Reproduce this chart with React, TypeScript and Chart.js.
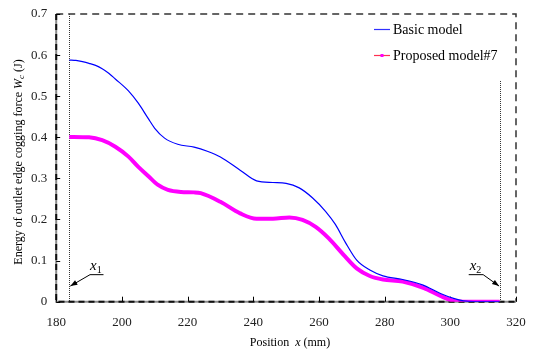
import React, { useEffect, useRef } from "react";
import { Chart, registerables } from "chart.js";

Chart.register(...registerables);

// ---- data ----
const basicX = [184, 186, 188, 190, 192, 194, 196, 198, 202, 205, 208, 210, 213, 217, 222, 226, 230, 236, 241, 246, 250, 254, 258, 262, 265, 268, 271.5, 275.5, 279.5, 285.5, 291.5, 297, 301, 304, 307, 315];
const basicModel = [0.588, 0.587, 0.584, 0.58, 0.575, 0.567, 0.556, 0.542, 0.513, 0.483, 0.446, 0.422, 0.398, 0.383, 0.376, 0.366, 0.352, 0.32, 0.294, 0.29, 0.288, 0.277, 0.253, 0.22, 0.188, 0.145, 0.101, 0.077, 0.063, 0.054, 0.041, 0.02, 0.008, 0.002, 0, 0];
const proposedX = [184, 190, 194, 198, 202, 205, 208, 211, 214, 218, 222, 224, 230, 236, 241, 246, 251, 255, 259, 263, 267.5, 271.5, 275.5, 279.5, 285.5, 292, 297, 301, 304, 315];
const proposedModel = [0.401, 0.4, 0.393, 0.377, 0.353, 0.328, 0.306, 0.284, 0.272, 0.267, 0.266, 0.264, 0.243, 0.215, 0.202, 0.202, 0.205, 0.199, 0.182, 0.154, 0.114, 0.081, 0.0625, 0.054, 0.049, 0.033, 0.014, 0.002, 0, 0];
const xTicks = [180, 200, 220, 240, 260, 280, 300, 320];
const yTicks = [0, 0.1, 0.2, 0.3, 0.4, 0.5, 0.6, 0.7];
const seriesNames = ["Basic model", "Proposed model#7"];
const x1Pos = 184;
const x2Pos = 315;

const SERIF = '"Liberation Serif", "Times New Roman", serif';

const deco = {
  id: "deco",
  beforeDatasetsDraw(chart: any) {
    const { ctx, chartArea: a, scales } = chart;
    const x = scales.x, y = scales.y;
    ctx.save();
    ctx.strokeStyle = "#333";
    ctx.lineWidth = 1.5;
    ctx.setLineDash([7, 5]);
    ctx.beginPath();
    ctx.moveTo(a.left, a.top);
    ctx.lineTo(a.right, a.top);
    ctx.lineTo(a.right, a.bottom);
    ctx.stroke();
    ctx.setLineDash([]);
    ctx.strokeStyle = "#8a8a8a";
    ctx.lineWidth = 2;
    ctx.beginPath();
    ctx.moveTo(a.left, a.top);
    ctx.lineTo(a.left, a.bottom);
    ctx.lineTo(a.right, a.bottom);
    ctx.stroke();
    ctx.setLineDash([6, 4]);
    ctx.strokeStyle = "#111";
    ctx.stroke();
    ctx.setLineDash([]);
    ctx.lineWidth = 1;
    ctx.strokeStyle = "#000";
    ctx.beginPath();
    xTicks.forEach((v) => {
      const px = Math.round(x.getPixelForValue(v)) + 0.5;
      ctx.moveTo(px, a.bottom);
      ctx.lineTo(px, a.bottom - 5);
    });
    yTicks.forEach((v) => {
      const py = Math.round(y.getPixelForValue(v)) + 0.5;
      ctx.moveTo(a.left, py);
      ctx.lineTo(a.left + 4, py);
    });
    ctx.stroke();
    ctx.setLineDash([1, 1]);
    ctx.strokeStyle = "#333";
    ctx.beginPath();
    const p1 = Math.round(x.getPixelForValue(x1Pos)) + 0.5;
    ctx.moveTo(p1, a.top);
    ctx.lineTo(p1, a.bottom);
    const p2 = Math.round(x.getPixelForValue(x2Pos)) + 0.5;
    ctx.moveTo(p2, y.getPixelForValue(0.537));
    ctx.lineTo(p2, a.bottom);
    ctx.stroke();
    ctx.restore();
  },
  afterDraw(chart: any) {
    const { ctx, chartArea: a, scales } = chart;
    const x = scales.x, y = scales.y;
    ctx.save();
    ctx.fillStyle = "#000";
    ctx.strokeStyle = "#000";
    ctx.textBaseline = "alphabetic";

    const drawLabel = (lx: number, ly: number, sub: string) => {
      ctx.font = `italic 15px ${SERIF}`;
      ctx.textAlign = "left";
      ctx.fillText("x", lx, ly);
      const w = ctx.measureText("x").width;
      ctx.font = `10px ${SERIF}`;
      ctx.fillText(sub, lx + w, ly + 3);
    };
    const arrow = (fx: number, fy: number, tx: number, ty: number) => {
      ctx.lineWidth = 1;
      ctx.beginPath();
      ctx.moveTo(fx, fy);
      ctx.lineTo(tx, ty);
      ctx.stroke();
      const ang = Math.atan2(ty - fy, tx - fx);
      const L = 7, W = 2.6;
      ctx.beginPath();
      ctx.moveTo(tx, ty);
      ctx.lineTo(tx - L * Math.cos(ang) + W * Math.sin(ang), ty - L * Math.sin(ang) - W * Math.cos(ang));
      ctx.lineTo(tx - L * Math.cos(ang) - W * Math.sin(ang), ty - L * Math.sin(ang) + W * Math.cos(ang));
      ctx.closePath();
      ctx.fill();
    };
    const uy = y.getPixelForValue(0.067);
    const ty = y.getPixelForValue(0.038);
    const u1a = x.getPixelForValue(190.3), u1b = x.getPixelForValue(194.4);
    drawLabel(u1a, uy - 4, "1");
    ctx.lineWidth = 1;
    ctx.beginPath();
    ctx.moveTo(u1a, uy + 0.5);
    ctx.lineTo(u1b, uy + 0.5);
    ctx.stroke();
    arrow(u1a, uy + 0.5, x.getPixelForValue(x1Pos) + 1, ty);
    const u2a = x.getPixelForValue(305.6), u2b = x.getPixelForValue(310);
    drawLabel(u2a + 1, uy - 4, "2");
    ctx.beginPath();
    ctx.moveTo(u2a, uy + 0.5);
    ctx.lineTo(u2b, uy + 0.5);
    ctx.stroke();
    arrow(u2b, uy + 0.5, x.getPixelForValue(x2Pos) - 0.5, ty);

    // legend
    const lx0 = a.right - 142, lx1 = a.right - 126, tx = a.right - 123;
    ctx.font = `14px ${SERIF}`;
    ctx.textAlign = "left";
    ctx.textBaseline = "middle";
    ctx.strokeStyle = "#3030ff";
    ctx.lineWidth = 1.2;
    ctx.beginPath();
    ctx.moveTo(lx0, 29.5);
    ctx.lineTo(lx1, 29.5);
    ctx.stroke();
    ctx.fillStyle = "#000";
    ctx.fillText(seriesNames[0], tx, 30);
    ctx.strokeStyle = "#ff3050";
    ctx.beginPath();
    ctx.moveTo(lx0, 55.5);
    ctx.lineTo(lx1, 55.5);
    ctx.stroke();
    ctx.fillStyle = "#ff00ff";
    ctx.fillRect((lx0 + lx1) / 2 - 1.5, 54, 3, 3);
    ctx.fillStyle = "#000";
    ctx.fillText(seriesNames[1], tx, 56);

    // x-axis title
    ctx.textBaseline = "alphabetic";
    const parts: [string, string][] = [
      [`12px ${SERIF}`, "Position  "],
      [`italic 12px ${SERIF}`, "x"],
      [`12px ${SERIF}`, " (mm)"],
    ];
    let tw = 0;
    parts.forEach(([f, t]) => { ctx.font = f; tw += ctx.measureText(t).width; });
    let cx = 290 - tw / 2;
    parts.forEach(([f, t]) => {
      ctx.font = f;
      ctx.fillText(t, cx, 346);
      cx += ctx.measureText(t).width;
    });

    // y-axis title
    ctx.save();
    ctx.translate(22, 162);
    ctx.rotate(-Math.PI / 2);
    const yparts: [string, string, number][] = [
      [`12px ${SERIF}`, "Energy of outlet edge cogging force ", 0],
      [`italic 12px ${SERIF}`, "W", 0],
      [`italic 9px ${SERIF}`, "c", 2],
      [`12px ${SERIF}`, " (J)", 0],
    ];
    let yw = 0;
    yparts.forEach(([f, t]) => { ctx.font = f; yw += ctx.measureText(t).width; });
    let cy = -yw / 2;
    yparts.forEach(([f, t, dy]) => {
      ctx.font = f;
      ctx.fillText(t, cy, dy);
      cy += ctx.measureText(t).width;
    });
    ctx.restore();

    ctx.restore();
  },
};

export default function App() {
  const ref = useRef<HTMLCanvasElement | null>(null);
  useEffect(() => {
    document.body.style.margin = "0";
    const canvas = ref.current;
    if (!canvas) return;
    const chart = new Chart(canvas, {
      type: "line",
      data: {
        datasets: [
          {
            label: seriesNames[0],
            data: basicX.map((v, i) => ({ x: v, y: basicModel[i] })),
            borderColor: "#0000ff",
            borderWidth: 1.2,
            pointRadius: 0,
            cubicInterpolationMode: "monotone",
            fill: false,
          },
          {
            label: seriesNames[1],
            data: proposedX.map((v, i) => ({ x: v, y: proposedModel[i] })),
            borderColor: "#ff00ff",
            borderWidth: 4,
            pointRadius: 0,
            cubicInterpolationMode: "monotone",
            fill: false,
          },
        ],
      },
      options: {
        animation: false,
        responsive: true,
        maintainAspectRatio: false,
        layout: { padding: { left: 0, top: 14, right: 19, bottom: 0 } },
        plugins: { legend: { display: false }, tooltip: { enabled: false } },
        scales: {
          x: {
            type: "linear",
            min: 180,
            max: 320,
            grid: { display: false, drawTicks: false },
            border: { display: false },
            ticks: {
              stepSize: 20,
              padding: 13,
              color: "#222",
              font: { family: SERIF, size: 13 },
              maxRotation: 0,
            },
            afterFit: (s: any) => {
              s.height = 50.3;
              s.paddingLeft = 0;
              s.paddingRight = 0;
            },
          },
          y: {
            min: 0,
            max: 0.7,
            grid: { display: false, drawTicks: false },
            border: { display: false },
            ticks: {
              stepSize: 0.1,
              padding: 9,
              color: "#222",
              font: { family: SERIF, size: 13 },
              callback: (v: any) => (Number(v) === 0 ? "0" : Number(v).toFixed(1)),
            },
            afterFit: (s: any) => {
              s.width = 56.2;
              s.paddingTop = 0;
              s.paddingBottom = 0;
            },
          },
        },
      },
      plugins: [deco],
    } as any);
    return () => chart.destroy();
  }, []);
  return (
    <div style={{ width: 535, height: 352, position: "relative" }}>
      <canvas ref={ref} />
    </div>
  );
}
